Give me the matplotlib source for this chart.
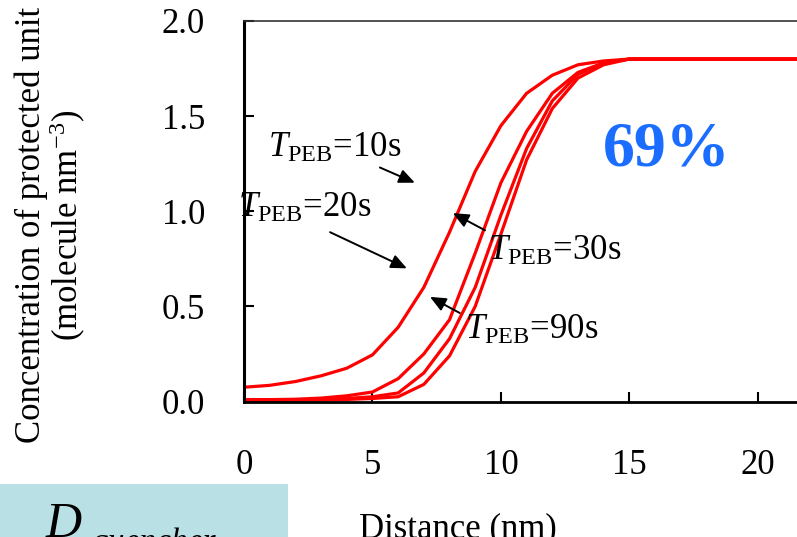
import numpy as np
import matplotlib
matplotlib.use("Agg")
import matplotlib.pyplot as plt
from matplotlib.patches import Rectangle

# concentration profiles read at 1 nm steps
distance = [0, 1, 2, 3, 4, 5, 6, 7, 8, 9, 10, 11, 12, 13, 14, 15, 16, 18, 20, 22, 25]
conc_10s = [0.075, 0.085, 0.105, 0.135, 0.175, 0.245, 0.39, 0.60, 0.89, 1.21, 1.45, 1.62, 1.715, 1.77, 1.79, 1.80, 1.80, 1.80, 1.80, 1.80, 1.80]
conc_20s = [0.01, 0.01, 0.012, 0.018, 0.03, 0.05, 0.12, 0.25, 0.43, 0.78, 1.15, 1.42, 1.62, 1.73, 1.78, 1.80, 1.80, 1.80, 1.80, 1.80, 1.80]
conc_30s = [0.008, 0.008, 0.009, 0.011, 0.016, 0.025, 0.045, 0.15, 0.33, 0.60, 0.98, 1.33, 1.58, 1.72, 1.78, 1.80, 1.80, 1.80, 1.80, 1.80, 1.80]
conc_90s = [0.006, 0.006, 0.007, 0.008, 0.011, 0.016, 0.025, 0.09, 0.24, 0.50, 0.88, 1.27, 1.54, 1.70, 1.77, 1.80, 1.80, 1.80, 1.80, 1.80, 1.80]

labels = ["10s", "20s", "30s", "90s"]
label_pos = [(0.93, 1.285), (-0.23, 0.97), (9.49, 0.744), (8.6, 0.33)]
arrow_tail = [(5.29, 1.23), (3.35, 0.89), (9.38, 0.90), (8.4, 0.465)]
arrow_head = [(6.65, 1.15), (6.34, 0.70), (8.13, 0.99), (7.24, 0.55)]

plt.rcParams['font.family'] = 'Liberation Serif'
plt.rcParams['mathtext.fontset'] = 'custom'
plt.rcParams['mathtext.rm'] = 'Liberation Serif'
plt.rcParams['mathtext.it'] = 'Liberation Serif:italic'
plt.rcParams['font.size'] = 25

fig = plt.figure(figsize=(7.97, 5.37), dpi=100)
ax = fig.add_axes([0.3061, 0.2523, 0.806, 0.7086])

for c in [conc_10s, conc_20s, conc_30s, conc_90s]:
    ax.plot(distance, c, color='#ff0000', lw=2.3, solid_joinstyle='round')

ax.set_xlim(0, 25)
ax.set_ylim(0, 2.0)
ax.set_xticks([0, 5, 10, 15, 20])
ax.set_yticks([0, 0.5, 1.0, 1.5, 2.0])
ax.set_yticklabels(['0.0', '0.5', '1.0', '1.5', '2.0'])
ax.tick_params(direction='in', length=7, width=1.5, color='black')
ax.tick_params(axis='x', pad=34)
ax.tick_params(axis='y', pad=28)
ax.spines['left'].set_linewidth(2.2)
ax.spines['bottom'].set_linewidth(2.0)
ax.spines['top'].set_linewidth(1.2)
ax.spines['top'].set_color('#333333')
ax.spines['right'].set_visible(False)

for lab, pos, tail, head in zip(labels, label_pos, arrow_tail, arrow_head):
    ax.text(pos[0], pos[1], r'$T_{\mathrm{PEB}}$=' + lab, ha='left', va='baseline',
            fontsize=25, clip_on=False)
    ax.annotate('', xy=head, xytext=tail,
                arrowprops=dict(arrowstyle='-|>,head_length=0.95,head_width=0.42',
                                mutation_scale=10, color='black', lw=1.4,
                                shrinkA=0, shrinkB=0))

ax.text(16.45, 1.32, '69%', color='#1a6dff', fontsize=46, fontweight='bold',
        ha='center', va='center')

fig.text(51 / 797, 1 - 225 / 537, 'Concentration of protected unit\n(molecule nm$^{\\mathrm{-3}}$)',
         rotation=90, ha='center', va='center', multialignment='center',
         fontsize=25, linespacing=1.0)
fig.text(458 / 797, 1 - 512 / 537, 'Distance (nm)', ha='center', va='top', fontsize=25)

# shaded box along the lower left edge
fig.patches.append(Rectangle((0, 0), 288 / 797, 53 / 537, transform=fig.transFigure,
                             facecolor='#b9e0e4', edgecolor='none', zorder=0))
fig.text(46 / 797, 1 - 537 / 537, 'D', fontsize=36, style='italic', ha='left', va='baseline')
fig.text(92 / 797, 1 - 551 / 537, 'quencher', fontsize=24, style='italic',
         ha='left', va='baseline')

fig.savefig('out.png', dpi=100)
